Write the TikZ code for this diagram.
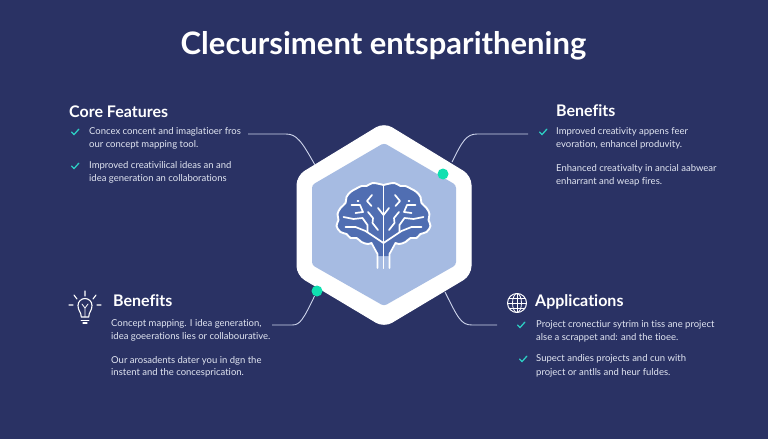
\documentclass[tikz,border=0pt]{standalone}
\usepackage{fontspec}
\setmainfont{Lato}[Ligatures=NoCommon]
\definecolor{bgnavy}{RGB}{42,50,100}
\definecolor{teal}{RGB}{16,224,176}
\definecolor{checkteal}{RGB}{45,205,195}
\definecolor{hexfill}{RGB}{166,187,226}
\definecolor{brainblue}{RGB}{80,110,178}
\definecolor{bodytxt}{RGB}{226,230,242}
\definecolor{linkc}{RGB}{205,212,235}
\tikzset{
 body/.style={anchor=west,inner sep=0pt,text=bodytxt,font=\fontsize{9.5}{11}\selectfont},
 head/.style={anchor=west,inner sep=0pt,text=white,font=\fontsize{16}{18}\selectfont\bfseries},
 link/.style={draw=linkc,line width=0.9pt},
 tick/.style={draw=checkteal,line width=1.3pt,line cap=round,line join=round},
 icon/.style={draw=white,line width=1.1pt,line cap=round,line join=round},
 dot/.style={circle,fill=teal,inner sep=0pt,minimum size=11pt},
 brainln/.style={draw=white,line width=1.7pt,line cap=round,line join=round},
}
\newcommand{\tickat}[2]{\draw[tick] (#1-3.5,#2) -- (#1-1,#2+2.6) -- (#1+3.8,#2-2.8);}
\newcommand{\halfbrain}{%
 \path[fill=brainblue] plot[smooth,tension=0.6] coordinates {(0,185) (4,184) (11,183) (17,186) (22,186) (28,189) (33,192) (37,197) (38,203) (43,208) (46,214) (45,220) (47,226) (43,232) (37,234) (33,238) (27,238) (22,242) (16,244) (12,243)} -- (6,254) -- (6,256) -- (0,256) -- cycle;
 \draw[brainln,line width=1.9pt] plot[smooth,tension=0.6] coordinates {(0,185) (4,184) (11,183) (17,186) (22,186) (28,189) (33,192) (37,197) (38,203) (43,208) (46,214) (45,220) (47,226) (43,232) (37,234) (33,238) (27,238) (22,242) (16,244) (12,243)};
 \draw[brainln] (0,186) -- (0,268);
 \draw[brainln] (6,268) -- (6,254) -- (12,243);
 \draw[brainln] (5.5,208) -- (0,215);
 \draw[brainln] (11.5,195) -- (16.5,201) -- (12,206);
 \draw[brainln] (25,201) -- (26,201);
 \draw[brainln] (32,205) -- (23.5,205) -- (20.5,212) -- (28,213);
 \draw[brainln] (15.5,212) -- (10.5,218) -- (11,223) -- (5.5,230);
 \draw[brainln] (40,217) -- (30,219) -- (21,218) -- (16,225) -- (16,232);
 \draw[brainln] (0,243) -- (18,231) -- (28,227) -- (38,227);
}
\begin{document}
\begin{tikzpicture}[x=1pt,y=-1pt]
\useasboundingbox (0,0) rectangle (768,439);
\fill[bgnavy] (0,0) rectangle (768,439);

\node[anchor=center,inner sep=0pt,text=white,font=\fontsize{31}{34}\selectfont\bfseries] (title) at (383.5,46) {Clecursiment entsparithening};

% hexagon
\draw[fill=white,draw=white,line width=1pt,rounded corners=9pt] (384,123) -- (471,176) -- (471,275) -- (384,327) -- (297,275) -- (297,176) -- cycle;
\fill[hexfill,rounded corners=3pt] (384,143) -- (456,185) -- (456,265) -- (384,306) -- (312,265) -- (312,185) -- cycle;

% brain
\begin{scope}[shift={(383.5,0)},x=1pt]
 \halfbrain
\end{scope}
\begin{scope}[shift={(383.5,0)},x=-1pt]
 \halfbrain
\end{scope}

% anchors of connectors
\coordinate (hexTL) at (315,165);
\coordinate (hexTR) at (452,162);
\coordinate (hexBR) at (445,292);
\coordinate (tlA) at (248,134);
\coordinate (trA) at (528,134);
\coordinate (blA) at (272,325);
\coordinate (brA) at (497,325);
\node[dot] (dotTR) at (443,174) {};
\node[dot] (dotBL) at (317,291) {};

\draw[link] (tlA) -- (286,134) .. controls (297,134) and (302,142) .. (hexTL);
\draw[link] (trA) -- (477,134) .. controls (466,134) and (462,142) .. (hexTR);
\draw[link] (blA) -- (292,325) .. controls (300,325) and (303,320) .. (dotBL);
\draw[link] (brA) -- (472,325) .. controls (461,325) and (458,318) .. (hexBR);

% top left
\node[head] (h1) at (69,112) {Core Features};
\tickat{75}{132}\tickat{75}{166}
\node[body] (t1a) at (89,132) {Concex concent and imaglatioer fros};
\node[body] (t1b) at (89,145) {our concept mapping tool.};
\node[body] (t1c) at (89,166) {Improved creativilical ideas an and};
\node[body] (t1d) at (89,179) {idea generation an collaborations};

% top right
\node[head] (h2) at (556,111) {Benefits};
\tickat{543}{132}
\node[body] (t2a) at (556,132) {Improved creativity appens feer};
\node[body] (t2b) at (556,145) {evoration, enhancel produvity.};
\node[body] (t2c) at (556,169) {Enhanced creativalty in ancial aabwear};
\node[body] (t2d) at (556,182) {enharrant and weap fires.};

% bottom left
\node[head] (h3) at (113,301) {Benefits};
\node[body] (t3a) at (111,324) {Concept mapping. I idea generation,};
\node[body] (t3b) at (111,337) {idea goeerations lies or collabourative.};
\node[body] (t3c) at (111,361) {Our arosadents dater you in dgn the};
\node[body] (t3d) at (111,373) {instent and the concesprication.};

% bottom right
\node[head] (h4) at (535,302) {Applications};
\tickat{521}{325}\tickat{523}{359}
\node[body] (t4a) at (536,325) {Project cronectiur sytrim in tiss ane project};
\node[body] (t4b) at (536,338) {alse a scrappet and: and the tioee.};
\node[body] (t4c) at (536,359) {Supect andies projects and cun with};
\node[body] (t4d) at (536,373) {project or antlls and heur fuldes.};

% bulb icon
\draw[icon] (81.3,317) .. controls (81.3,312) and (78,311) .. (78,305.5) arc[start angle=180,end angle=360,radius=7] .. controls (92,311) and (88.7,312) .. (88.7,317) -- cycle;
\draw[icon,line width=0.8pt] (82,304) -- (85,308) -- (88,304) (85,308) -- (85,317);
\draw[icon,line width=1.3pt] (81.3,320.5) -- (88.7,320.5) (83,323) -- (87,323);
\draw[icon] (85,291) -- (85,296) (74,295) -- (77,299) (96,295) -- (93,299) (69,305) -- (73,305) (97,305) -- (101,305);

% globe icon
\draw[icon,line width=1pt] (517,303) circle[radius=9.5];
\draw[icon,line width=0.8pt] (517,303) ellipse[x radius=4.5,y radius=9.5];
\draw[icon,line width=0.8pt] (517,293.5) -- (517,312.5) (507.5,303) -- (526.5,303) (509,298) -- (525,298) (509,308) -- (525,308);
\end{tikzpicture}
\end{document}
